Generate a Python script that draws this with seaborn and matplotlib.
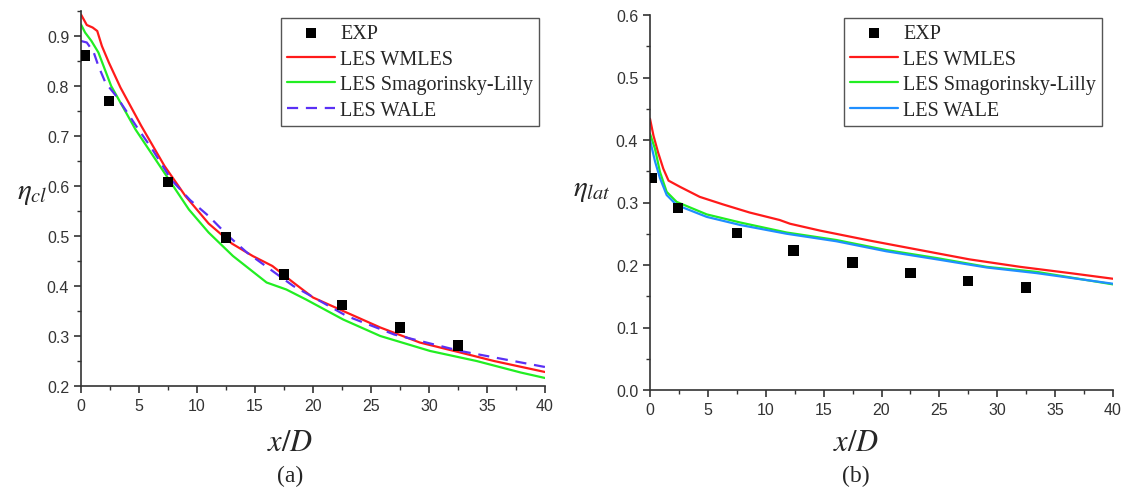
import numpy as np
import pandas as pd
import matplotlib
matplotlib.use("Agg")
import matplotlib.pyplot as plt
from matplotlib.ticker import MultipleLocator
import seaborn as sns

# ---------------- data (a) centerline ----------------
exp_a_x = [0.3, 2.4, 7.5, 12.5, 17.5, 22.5, 27.5, 32.5]
exp_a_y = [0.861, 0.770, 0.608, 0.497, 0.423, 0.362, 0.317, 0.281]

wm_a_x = [0, 0.5, 1.0, 1.4, 1.8, 2.4, 3.4, 5.2, 7.2, 9.0, 11.0, 13.0, 14.8, 16.5, 18.3, 20.0, 22.6, 25.8, 29.2, 32.7, 35.6, 40]
wm_a_y = [0.943, 0.922, 0.917, 0.910, 0.880, 0.847, 0.797, 0.720, 0.640, 0.580, 0.525, 0.485, 0.460, 0.440, 0.407, 0.377, 0.350, 0.317, 0.287, 0.267, 0.250, 0.228]

sm_a_x = [0, 0.35, 0.9, 1.5, 2.6, 4.7, 7.0, 9.3, 11.0, 13.1, 16.0, 17.7, 19.4, 22.6, 25.8, 30.1, 34.1, 37.9, 40]
sm_a_y = [0.923, 0.907, 0.890, 0.867, 0.800, 0.713, 0.633, 0.553, 0.507, 0.460, 0.407, 0.393, 0.373, 0.333, 0.300, 0.270, 0.250, 0.227, 0.216]

wa_a_x = [0, 0.5, 1.1, 1.5, 2.1, 3.1, 4.9, 6.1, 7.8, 9.4, 11.0, 12.7, 14.3, 18.3, 22.9, 27.0, 32.7, 40]
wa_a_y = [0.890, 0.887, 0.867, 0.840, 0.807, 0.778, 0.715, 0.675, 0.612, 0.572, 0.540, 0.500, 0.467, 0.400, 0.340, 0.303, 0.270, 0.238]

# ---------------- data (b) lateral ----------------
exp_b_x = [0.15, 2.4, 7.5, 12.4, 17.5, 22.5, 27.5, 32.5]
exp_b_y = [0.339, 0.291, 0.251, 0.223, 0.204, 0.187, 0.174, 0.164]

wm_b_x = [0, 0.3, 0.7, 1.15, 1.6, 2.6, 4.3, 6.3, 8.6, 11.2, 12.1, 14.7, 19.0, 23.3, 27.6, 32.0, 36.3, 40]
wm_b_y = [0.434, 0.407, 0.380, 0.354, 0.335, 0.325, 0.309, 0.297, 0.284, 0.272, 0.266, 0.255, 0.239, 0.224, 0.209, 0.197, 0.187, 0.178]

sm_b_x = [0, 0.43, 0.86, 1.44, 2.3, 4.9, 7.8, 11.8, 16.1, 20.4, 24.8, 29.1, 33.4, 40]
sm_b_y = [0.410, 0.386, 0.349, 0.317, 0.301, 0.281, 0.268, 0.252, 0.240, 0.224, 0.211, 0.197, 0.189, 0.169]

wa_b_x = [0, 0.43, 0.86, 1.44, 2.3, 4.9, 7.8, 11.8, 16.1, 20.4, 24.8, 29.1, 33.4, 40]
wa_b_y = [0.400, 0.366, 0.339, 0.312, 0.296, 0.277, 0.264, 0.250, 0.238, 0.222, 0.209, 0.196, 0.187, 0.170]

labels = ["EXP", "LES WMLES", "LES Smagorinsky-Lilly", "LES WALE"]

sns.set_style("ticks")
plt.rcParams["font.family"] = ["Liberation Sans", "DejaVu Sans"]
plt.rcParams["mathtext.fontset"] = "stix"

fig = plt.figure(figsize=(11.25, 4.89), dpi=100)
axA = fig.add_axes([81 / 1125, 102 / 489, 464 / 1125, 375 / 489])
axB = fig.add_axes([650 / 1125, 98 / 489, 463 / 1125, 375 / 489])

RED = "#ff1a1a"
GREEN = "#22ee22"
PURPLE = "#5a30f5"
BLUE = "#1f8fff"


def draw(ax, ex, ey, wx, wy, sx, sy, ax_, ay_, wale_color, wale_ls):
    sns.scatterplot(x=ex, y=ey, ax=ax, marker="s", s=55, color="black",
                    edgecolor="none", label=labels[0], zorder=5)
    sns.lineplot(x=wx, y=wy, ax=ax, color=RED, lw=1.6, label=labels[1])
    sns.lineplot(x=sx, y=sy, ax=ax, color=GREEN, lw=1.6, label=labels[2])
    sns.lineplot(x=ax_, y=ay_, ax=ax, color=wale_color, lw=1.6,
                 linestyle=wale_ls, label=labels[3])


draw(axA, exp_a_x, exp_a_y, wm_a_x, wm_a_y, sm_a_x, sm_a_y, wa_a_x, wa_a_y,
     PURPLE, (0, (5, 3.5)))
draw(axB, exp_b_x, exp_b_y, wm_b_x, wm_b_y, sm_b_x, sm_b_y, wa_b_x, wa_b_y,
     BLUE, "-")

axA.set_xlim(0, 40)
axA.set_ylim(0.2, 0.95)
axB.set_xlim(0, 40)
axB.set_ylim(0.0, 0.6)
axA.yaxis.set_major_locator(MultipleLocator(0.1))
axA.yaxis.set_minor_locator(MultipleLocator(0.05))
axB.yaxis.set_major_locator(MultipleLocator(0.1))
axB.yaxis.set_minor_locator(MultipleLocator(0.05))

for ax in (axA, axB):
    ax.xaxis.set_major_locator(MultipleLocator(5))
    ax.xaxis.set_minor_locator(MultipleLocator(2.5))
    sns.despine(ax=ax)
    for sp in ("left", "bottom"):
        ax.spines[sp].set_color("#333333")
        ax.spines[sp].set_linewidth(1.2)
    ax.tick_params(which="major", direction="out", length=5, width=1.2,
                   color="#333333", labelsize=11.5, labelcolor="#333333")
    ax.tick_params(which="minor", direction="out", length=3, width=1.0,
                   color="#333333")
    ax.set_xlabel("")
    ax.set_ylabel("")
    h, l = ax.get_legend_handles_labels()
    order = [l.index(t) for t in labels]
    leg = ax.legend([h[i] for i in order], [l[i] for i in order],
                    loc="upper right", frameon=True, fancybox=False,
                    framealpha=1, edgecolor="#555555",
                    prop={"family": "Liberation Serif", "size": 14.5},
                    handlelength=2.4, handletextpad=0.25, labelspacing=0.32,
                    borderpad=0.3, borderaxespad=0)
    leg.get_frame().set_linewidth(1.0)

axA.get_legend().set_bbox_to_anchor((0.987, 0.981))
axB.get_legend().set_bbox_to_anchor((0.976, 0.992))

axA.set_ylabel(r"$\eta_{cl}$", rotation=0, fontsize=21)
axA.yaxis.set_label_coords(-0.105, 0.48)
axB.set_ylabel(r"$\eta_{lat}$", rotation=0, fontsize=21)
axB.yaxis.set_label_coords(-0.125, 0.5)

fig.text(290 / 1125, 1 - 443 / 489, r"$x/D$", fontsize=22, ha="center", va="center")
fig.text(290 / 1125, 1 - 476 / 489, "(a)", fontsize=17, ha="center", va="center",
         family="Liberation Serif")
fig.text(856 / 1125, 1 - 443 / 489, r"$x/D$", fontsize=22, ha="center", va="center")
fig.text(856 / 1125, 1 - 476 / 489, "(b)", fontsize=17, ha="center", va="center",
         family="Liberation Serif")

fig.savefig("out.png", dpi=100, facecolor="white")
